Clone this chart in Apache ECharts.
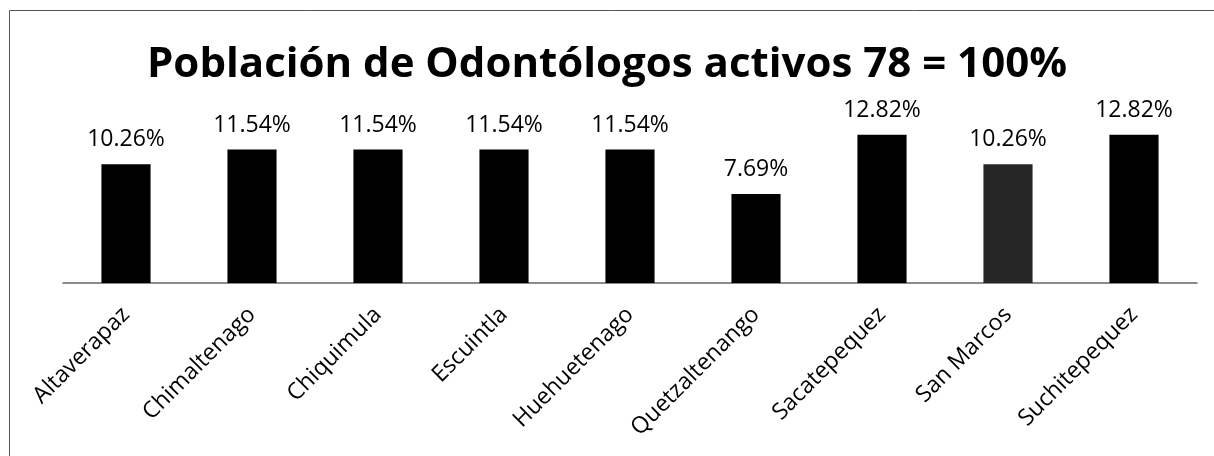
<!DOCTYPE html>
<html><head><meta charset="utf-8">
<script src="https://cdn.jsdelivr.net/npm/echarts@6/dist/echarts.min.js"></script>
<style>html,body{margin:0;padding:0;background:#fff}#c{width:1214px;height:456px}</style>
</head><body><div id="c"></div>
<script>
const categories = ['Altaverapaz','Chimaltenago','Chiquimula','Escuintla','Huehuetenago','Quetzaltenango','Sacatepequez','San Marcos','Suchitepequez'];
const values = [10.26, 11.54, 11.54, 11.54, 11.54, 7.69, 12.82, 10.26, 12.82];
const barColors = ['#000','#000','#000','#000','#000','#000','#000','#262626','#000'];
const titleText = 'Población de Odontólogos activos 78 = 100%';

const chart = echarts.init(document.getElementById('c'), null, {renderer:'canvas'});
chart.setOption({
  animation: false,
  backgroundColor: '#fff',
  title: {text: titleText, left: 'center', top: 39,
    textStyle: {fontFamily: 'Open Sans', fontWeight: 'bold', fontSize: 42, color: '#000'}},
  graphic: [{type: 'rect', shape: {x: 9.5, y: 10.5, width: 1300, height: 600},
    style: {fill: 'none', stroke: '#555', lineWidth: 1}, silent: true}],
  grid: {left: 63, right: 17, top: 121, bottom: 173, containLabel: false},
  xAxis: {type: 'category', data: categories,
    axisLine: {lineStyle: {color: '#666', width: 1.5}},
    axisTick: {show: false},
    axisLabel: {rotate: 45, interval: 0, margin: 28, color: '#000', fontFamily: 'Open Sans', fontSize: 23}},
  yAxis: {type: 'value', min: 0, max: 14, show: false, splitLine: {show: false}},
  series: [{type: 'bar', barWidth: '39%',
    data: values.map((v, i) => ({value: v, itemStyle: {color: barColors[i]}})),
    label: {show: true, position: 'top', distance: 13, formatter: p => p.value.toFixed(2) + '%',
      color: '#000', fontFamily: 'Open Sans', fontSize: 23}}]
});
</script></body></html>
